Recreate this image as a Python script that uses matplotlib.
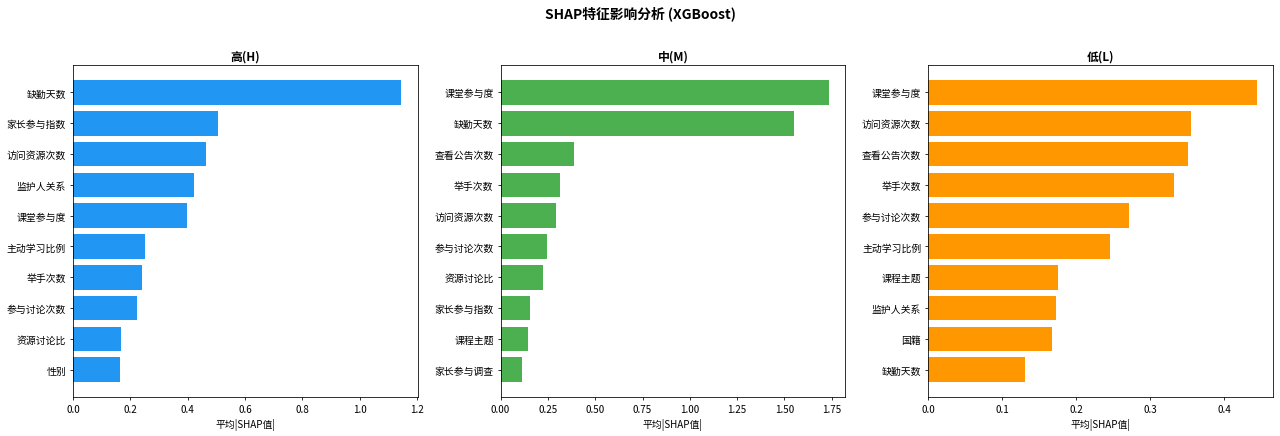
import numpy as np
from matplotlib import pyplot as plt

plt.rcParams['font.family'] = ['Noto Sans CJK SC', 'DejaVu Sans']
plt.rcParams['axes.unicode_minus'] = False

# 高(H)
feat_h = ["缺勤天数", "家长参与指数", "访问资源次数", "监护人关系", "课堂参与度",
          "主动学习比例", "举手次数", "参与讨论次数", "资源讨论比", "性别"]
shap_h = [1.145, 0.506, 0.464, 0.422, 0.398, 0.251, 0.241, 0.223, 0.167, 0.164]

# 中(M)
feat_m = ["课堂参与度", "缺勤天数", "查看公告次数", "举手次数", "访问资源次数",
          "参与讨论次数", "资源讨论比", "家长参与指数", "课程主题", "家长参与调查"]
shap_m = [1.735, 1.549, 0.390, 0.312, 0.295, 0.244, 0.222, 0.153, 0.143, 0.111]

# 低(L)
feat_l = ["课堂参与度", "访问资源次数", "查看公告次数", "举手次数", "参与讨论次数",
          "主动学习比例", "课程主题", "监护人关系", "国籍", "缺勤天数"]
shap_l = [0.444, 0.356, 0.352, 0.333, 0.272, 0.246, 0.176, 0.173, 0.167, 0.131]

titles = ["高(H)", "中(M)", "低(L)"]
colors = ["#2196F3", "#4CAF50", "#FF9800"]
feats = [feat_h, feat_m, feat_l]
vals = [shap_h, shap_m, shap_l]

fig, axes = plt.subplots(1, 3, figsize=(18, 6.145), dpi=1280 / 18)
for ax, f, v, t, c in zip(axes, feats, vals, titles, colors):
    y = np.arange(len(f))[::-1]
    ax.barh(y, v, color=c)
    ax.set_yticks(y)
    ax.set_yticklabels(f)
    ax.set_title(t, fontweight="bold", fontsize=12)
    ax.set_xlabel("平均|SHAP值|")

fig.suptitle("SHAP特征影响分析 (XGBoost)", fontsize=14, fontweight="bold", y=0.985)
plt.subplots_adjust(left=0.057, right=0.9945, top=0.849, bottom=0.089, wspace=0.24)
plt.savefig("out.png")
